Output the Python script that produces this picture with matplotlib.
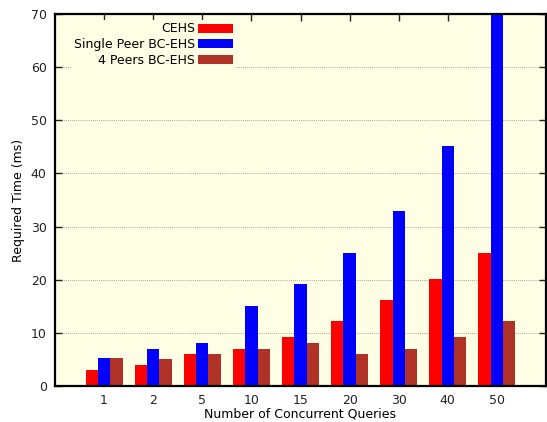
import numpy as np
import matplotlib.pyplot as plt
from matplotlib.ticker import MultipleLocator

# Data
queries = ['1', '2', '5', '10', '15', '20', '30', '40', '50']
cehs = [3, 4, 6, 7, 9.2, 12.2, 16.2, 20.2, 25]
single_peer = [5.2, 7, 8, 15, 19.1, 25, 33, 45.2, 70]
four_peers = [5.2, 5.1, 6, 7, 8.1, 6, 7, 9.2, 12.2]

series = [
    ('CEHS', cehs, '#ff0000'),
    ('Single Peer BC-EHS', single_peer, '#0000ff'),
    ('4 Peers BC-EHS', four_peers, '#b03226'),
]

fig = plt.figure(figsize=(5.47, 4.22), dpi=100)
ax = fig.add_axes([55 / 547, 1 - 386 / 422, 491 / 547, 372 / 422])
ax.set_facecolor('#fefee4')

x = np.arange(len(queries))
width = 0.25
for i, (label, vals, color) in enumerate(series):
    ax.bar(x + (i - 1) * width, vals, width, color=color, label=label,
           zorder=2, linewidth=0)

ax.set_xlim(-1, 9)
ax.set_ylim(0, 70)
ax.set_xticks(x)
ax.set_xticklabels(queries)
ax.yaxis.set_major_locator(MultipleLocator(10))
ax.yaxis.grid(True, linestyle=(0, (1, 1.5)), color='#888888', linewidth=0.6, zorder=1)
ax.tick_params(direction='in', top=True, right=True, length=5, width=1,
               labelsize=9, colors='#222222', pad=6)
ax.tick_params(axis='x', bottom=False)
for s in ax.spines.values():
    s.set_linewidth(1.6)

ax.set_xlabel('Number of Concurrent Queries', fontsize=9, labelpad=0)
ax.set_ylabel('Required Time (ms)', fontsize=9, labelpad=4)

leg = ax.legend(loc='upper right', bbox_to_anchor=((235 - 55) / 491, 1 - 6 / 372),
                frameon=True, markerfirst=False, fontsize=9,
                handlelength=2.8, handleheight=0.7, handletextpad=0.2,
                labelspacing=0.2, borderpad=0.2, borderaxespad=0.0,
                fancybox=False)
leg.get_frame().set_facecolor('#fefee4')
leg.get_frame().set_edgecolor('none')
leg.get_frame().set_alpha(1)
for t in leg.get_texts():
    t.set_ha('right')
leg._legend_box.align = 'right'

fig.savefig('out.png', dpi=100)
